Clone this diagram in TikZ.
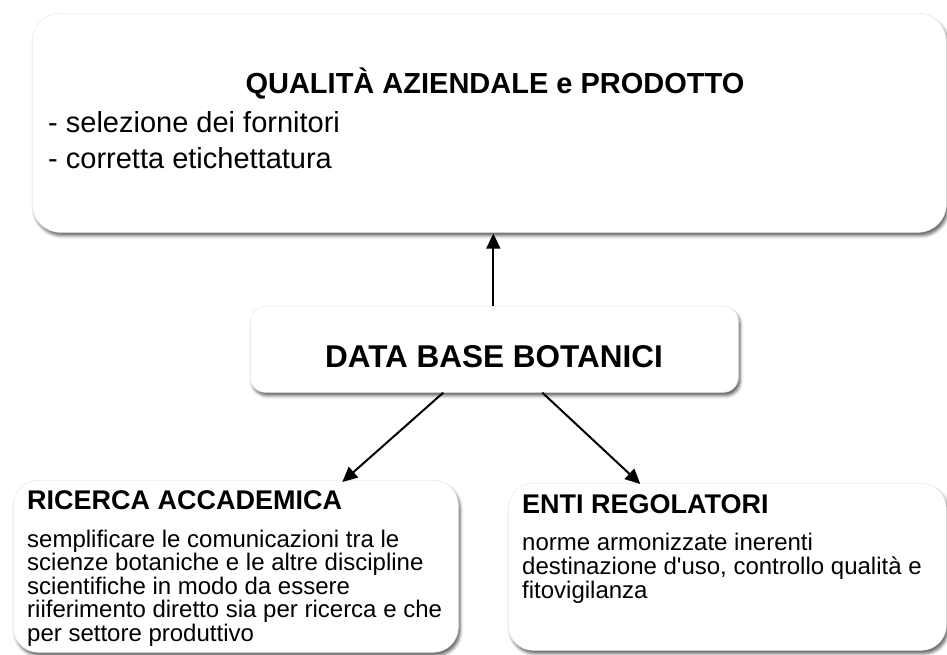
\documentclass[tikz,border=0pt]{standalone}
\usepackage{fontspec}
\setmainfont{Liberation Sans}[Ligatures=TeXOff]
\usetikzlibrary{shadows.blur,arrows.meta,calc}
\begin{document}
\begin{tikzpicture}[x=1pt,y=-1pt,
  box/.style={fill=white, draw=black!8, line width=0.6pt, inner sep=0pt, anchor=north west,
    blur shadow={shadow xshift=2pt, shadow yshift=-3.5pt, shadow blur radius=3pt, shadow opacity=60}},
  txt/.style={inner sep=0pt, anchor=base west},
  bodyfont/.style={font=\fontsize{24}{25}\selectfont},
  headfont/.style={font=\bfseries\fontsize{27}{28}\selectfont},
  conn/.style={line width=2pt, -{Triangle[length=15pt,width=14pt]}}
]
\useasboundingbox (0,0) rectangle (947,654);

% boxes
\node[box, rounded corners=28pt, minimum width=914pt, minimum height=219pt] (top) at (32,13) {};
\node[box, rounded corners=15pt, minimum width=488pt, minimum height=86pt] (mid) at (250,306) {};
\node[box, rounded corners=25pt, minimum width=445pt, minimum height=172pt] (left) at (13,480) {};
\node[box, rounded corners=25pt, minimum width=438pt, minimum height=167pt] (right) at (508,483) {};

% top texts
\node[inner sep=0pt, anchor=base, font=\bfseries\fontsize{29}{30}\selectfont] (t1) at (495,93) {QUALITÀ AZIENDALE e PRODOTTO};
\node[txt, font=\fontsize{29}{30}\selectfont] (t2) at (48,132) {- selezione dei fornitori};
\node[txt, font=\fontsize{29}{30}\selectfont] (t3) at (48,168) {- corretta etichettatura};

% middle text
\node[inner sep=0pt, anchor=base, font=\bfseries\fontsize{31.5}{33}\selectfont] (m1) at (494,367) {DATA BASE BOTANICI};

% left texts
\node[txt, headfont] (l0) at (27,509) {RICERCA ACCADEMICA};
\node[txt, bodyfont] (l1) at (27,547) {semplificare le comunicazioni tra le};
\node[txt, bodyfont] (l2) at (27,570.5) {scienze botaniche e le altre discipline};
\node[txt, bodyfont] (l3) at (27,594) {scientifiche in modo da essere};
\node[txt, bodyfont] (l4) at (27,617.5) {riiferimento diretto sia per ricerca e che};
\node[txt, bodyfont] (l5) at (27,641) {per settore produttivo};

% right texts
\node[txt, headfont] (r0) at (522,513) {ENTI REGOLATORI};
\node[txt, bodyfont] (r1) at (522,550) {norme armonizzate inerenti};
\node[txt, bodyfont] (r2) at (522,574) {destinazione d'uso, controllo qualità e};
\node[txt, bodyfont] (r3) at (522,598) {fitovigilanza};

% connectors
\draw[conn] ($(mid.north)+(-1,0)$) -- ($(top.south)+(4,1)$);
\draw[conn] ($(mid.south)+(-51,0)$) -- ($(left.north)+(106.5,2)$);
\draw[conn] ($(mid.south)+(48,0)$) -- ($(right.north)+(-87,1)$);
\end{tikzpicture}
\end{document}
